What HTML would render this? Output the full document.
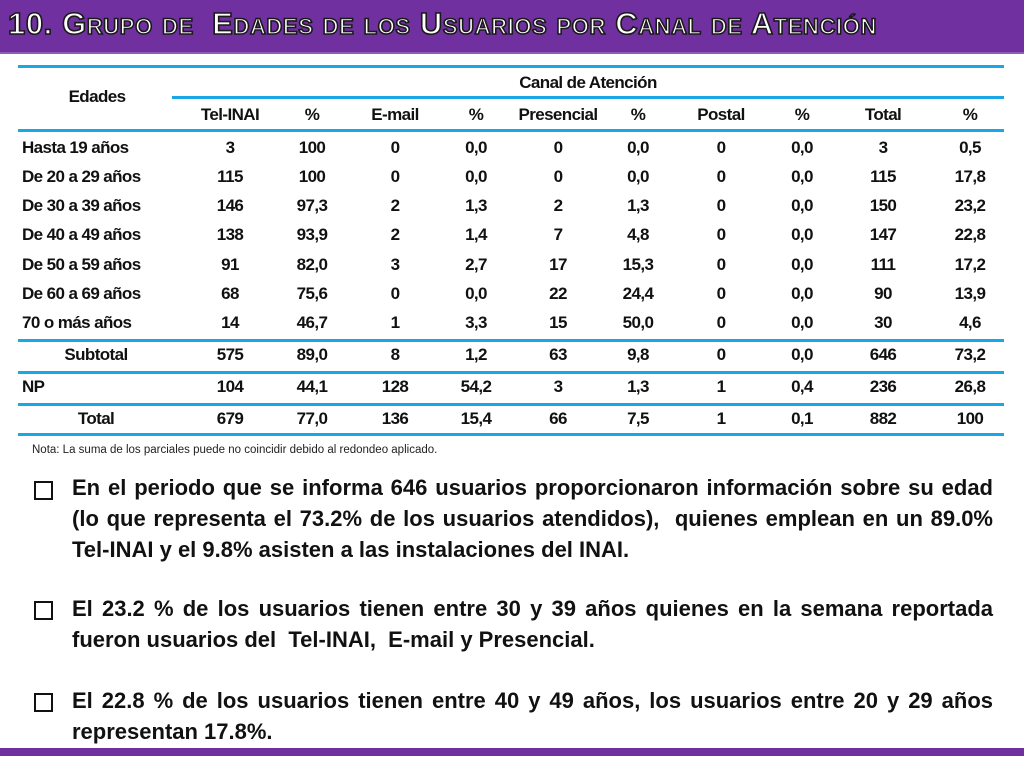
<!DOCTYPE html>
<html><head><meta charset="utf-8"><style>
body{margin:0;width:1024px;height:768px;position:relative;background:#fff;overflow:hidden;font-family:"Liberation Sans",sans-serif;}
.bar{position:absolute;left:0;top:0;width:1024px;height:52px;background:#7030a0;border-bottom:2px solid #8e5bb8;}
.title{position:absolute;left:8px;top:6px;font-size:31px;font-weight:bold;font-variant:small-caps;color:#fff;-webkit-text-stroke:1.6px #1a1a1a;white-space:pre;letter-spacing:0.6px;}
.ln{position:absolute;height:3px;background:#1aa7e6;}
.c{position:absolute;font-size:17px;font-weight:bold;color:#111;transform:translateX(-50%);white-space:nowrap;letter-spacing:-0.6px;}
.l{position:absolute;font-size:17px;font-weight:bold;color:#111;white-space:nowrap;letter-spacing:-0.6px;}
.note{position:absolute;left:32px;top:444px;font-size:11.5px;color:#222;}
.p{position:absolute;left:72px;width:921px;font-size:22px;font-weight:bold;color:#111;line-height:31px;text-align:justify;}
.cb{position:absolute;left:34px;width:15px;height:15px;border:2px solid #111;}
.bot{position:absolute;left:0;top:748px;width:1024px;height:8px;background:#7030a0;}
</style></head><body>
<div class="bar"></div>
<div class="title">10. Grupo de  Edades de los Usuarios por Canal de Atención</div>
<div id="tbl"></div>
<div class="note">Nota: La suma de los parciales puede no coincidir debido al redondeo aplicado.</div>
<div class="cb" style="top:481px"></div>
<div class="p" style="top:472px">En el periodo que se informa 646 usuarios proporcionaron información sobre su edad (lo que representa el 73.2% de los usuarios atendidos),&nbsp; quienes emplean en un 89.0% Tel-INAI y el 9.8% asisten a las instalaciones del INAI.</div>
<div class="cb" style="top:601px"></div>
<div class="p" style="top:593px">El 23.2 % de los usuarios tienen entre 30 y 39 años quienes en la semana reportada fueron usuarios del&nbsp; Tel-INAI,&nbsp; E-mail y Presencial.</div>
<div class="cb" style="top:693px"></div>
<div class="p" style="top:685px">El 22.8 % de los usuarios tienen entre 40 y 49 años, los usuarios entre 20 y 29 años representan 17.8%.</div>
<div class="bot"></div>
<script>
const headers=["Tel-INAI","%","E-mail","%","Presencial","%","Postal","%","Total","%"];
const rowLabels=["Hasta 19 años","De 20 a 29 años","De 30 a 39 años","De 40 a 49 años","De 50 a 59 años","De 60 a 69 años","70 o más años","Subtotal","NP","Total"];
const rowValues=[
["3","100","0","0,0","0","0,0","0","0,0","3","0,5"],
["115","100","0","0,0","0","0,0","0","0,0","115","17,8"],
["146","97,3","2","1,3","2","1,3","0","0,0","150","23,2"],
["138","93,9","2","1,4","7","4,8","0","0,0","147","22,8"],
["91","82,0","3","2,7","17","15,3","0","0,0","111","17,2"],
["68","75,6","0","0,0","22","24,4","0","0,0","90","13,9"],
["14","46,7","1","3,3","15","50,0","0","0,0","30","4,6"],
["575","89,0","8","1,2","63","9,8","0","0,0","646","73,2"],
["104","44,1","128","54,2","3","1,3","1","0,4","236","26,8"],
["679","77,0","136","15,4","66","7,5","1","0,1","882","100"]];
const colX=[230,312,395,476,558,638,721,802,883,970];
const rowY=[138,167,196,225,255,284,313,345,377,409];
const t=document.getElementById('tbl');
function add(cls,txt,x,y,name){const d=document.createElement('div');d.className=cls;d.textContent=txt;d.style.left=x+'px';d.style.top=y+'px';


t.appendChild(d);}
function line(x,y,w,name){const d=document.createElement('div');d.className='ln';d.style.left=x+'px';d.style.top=y+'px';d.style.width=w+'px';


t.appendChild(d);}
line(18,65,986,'table-top-rule');line(172,96,832,'channel-rule');line(18,129,986,'header-rule');
line(18,339,986,'subtotal-rule');line(18,371,986,'np-rule');line(18,403,986,'total-rule');line(18,433,986,'bottom-rule');
add('c','Edades',97,87,'edades-header');
add('c','Canal de Atención',588,73,'channel-header');
headers.forEach((h,i)=>add('c',h,colX[i],105,'col-header-'+i));
rowLabels.forEach((r,i)=>{
 if(r==='Subtotal'||r==='Total') add('c',r,96,rowY[i],'row-label-'+i);
 else add('l',r,22,rowY[i],'row-label-'+i);
 rowValues[i].forEach((v,j)=>add('c',v,colX[j],rowY[i],'cell-'+i+'-'+j));
});
</script>
</body></html>
